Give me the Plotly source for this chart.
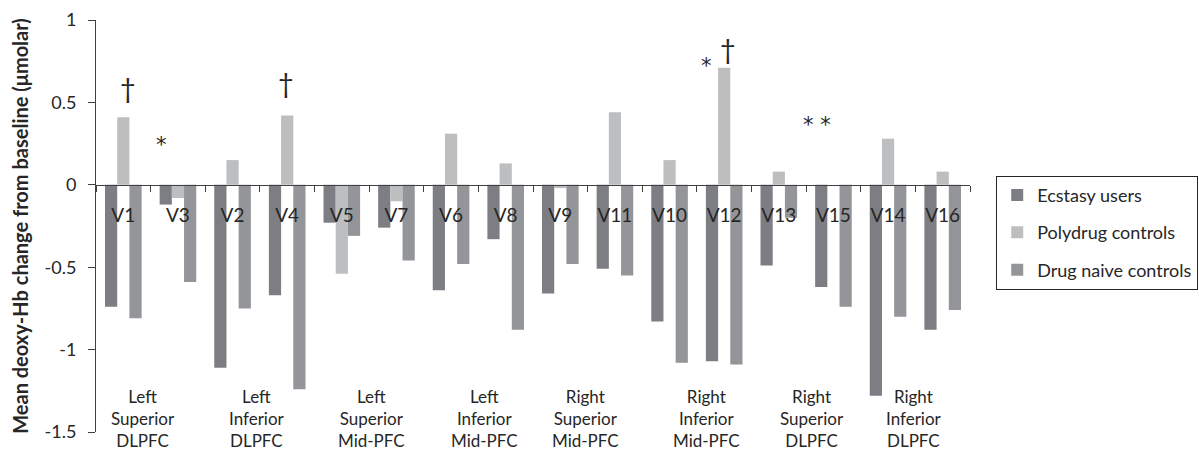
import plotly.graph_objects as go

categories = ["V1", "V3", "V2", "V4", "V5", "V7", "V6", "V8",
              "V9", "V11", "V10", "V12", "V13", "V15", "V14", "V16"]
ecstasy = [-0.74, -0.12, -1.11, -0.67, -0.23, -0.26, -0.64, -0.33,
           -0.66, -0.51, -0.83, -1.07, -0.49, -0.62, -1.28, -0.88]
polydrug = [0.41, -0.08, 0.15, 0.42, -0.54, -0.10, 0.31, 0.13,
            -0.02, 0.44, 0.15, 0.71, 0.08, 0.0, 0.28, 0.08]
naive = [-0.81, -0.59, -0.75, -1.24, -0.31, -0.46, -0.48, -0.88,
         -0.48, -0.55, -1.08, -1.09, -0.20, -0.74, -0.80, -0.76]
series_names = ["Ecstasy users", "Polydrug controls", "Drug naive controls"]

regions = ["Left<br>Superior<br>DLPFC", "Left<br>Inferior<br>DLPFC",
           "Left<br>Superior<br>Mid-PFC", "Left<br>Inferior<br>Mid-PFC",
           "Right<br>Superior<br>Mid-PFC", "Right<br>Inferior<br>Mid-PFC",
           "Right<br>Superior<br>DLPFC", "Right<br>Inferior<br>DLPFC"]
region_x = [0.36, 2.44, 4.54, 6.61, 8.46, 10.67, 12.60, 14.47]

sig_marks = ["†", "*", "†", "*", "†", "* *"]
sig_x = [0.08, 0.69, 2.98, 10.67, 11.07, 12.70]
sig_y = [0.59, 0.24, 0.62, 0.72, 0.83, 0.36]

y_ticks = [1, 0.5, 0, -0.5, -1, -1.5]
y_ticktext = ["1", "0.5", "0", "-0.5", "-1", "-1.5"]

colors = ["#7d7e83", "#bdbec0", "#949599"]
FONT = "Lato"
TXT = "#262626"

fig = go.Figure()
for name, vals, col in zip(series_names, [ecstasy, polydrug, naive], colors):
    fig.add_trace(go.Bar(x=categories, y=vals, name=name, marker_color=col,
                         marker_line_width=0, legendgroup=name))

for t, xx in zip(regions, region_x):
    fig.add_annotation(x=xx, y=-1.42, xref="x", yref="y", text=t, showarrow=False,
                       font=dict(family=FONT, size=17, color=TXT),
                       xanchor="center", yanchor="middle", align="center")
for t, xx, yy in zip(sig_marks, sig_x, sig_y):
    is_star = "*" in t
    fig.add_annotation(x=xx, y=yy, xref="x", yref="y", text=t, showarrow=False,
                       font=dict(family="DejaVu Sans" if is_star else FONT,
                                 size=21 if is_star else 27, color=TXT),
                       xanchor="center", yanchor="middle")

fig.update_layout(
    width=1199, height=450,
    margin=dict(l=96, r=229, t=20, b=18, autoexpand=False),
    paper_bgcolor="white", plot_bgcolor="white",
    barmode="group", bargap=0.33, bargroupgap=0,
    font=dict(family=FONT, color=TXT),
    showlegend=True,
    legend=dict(x=1.03, y=0.622, xanchor="left", yanchor="top",
                bordercolor="#262626", borderwidth=1,
                font=dict(family=FONT, size=18, color=TXT),
                traceorder="grouped", tracegroupgap=11,
                bgcolor="white"),
)
fig.update_xaxes(
    type="category", anchor="free", position=0.6,
    showline=True, linecolor="#404040", linewidth=1,
    ticks="outside", tickson="boundaries", ticklen=6, tickcolor="#404040",
    tickfont=dict(family=FONT, size=19, color=TXT),
    ticklabelstandoff=13,
    showgrid=False, zeroline=False,
)
fig.update_yaxes(
    range=[-1.5, 1], tickvals=y_ticks, ticktext=y_ticktext,
    showline=True, linecolor="#404040", linewidth=1,
    ticks="outside", ticklen=7, tickcolor="#404040",
    tickfont=dict(family=FONT, size=18, color=TXT),
    ticklabelstandoff=8,
    showgrid=False, zeroline=False,
    title=dict(text="<b>Mean deoxy-Hb change from baseline (μmolar)</b>",
               font=dict(family=FONT, size=20, color=TXT), standoff=10),
)

fig.write_html("out.html", config={"displayModeBar": False},
               post_script="document.body.style.margin='0';")
